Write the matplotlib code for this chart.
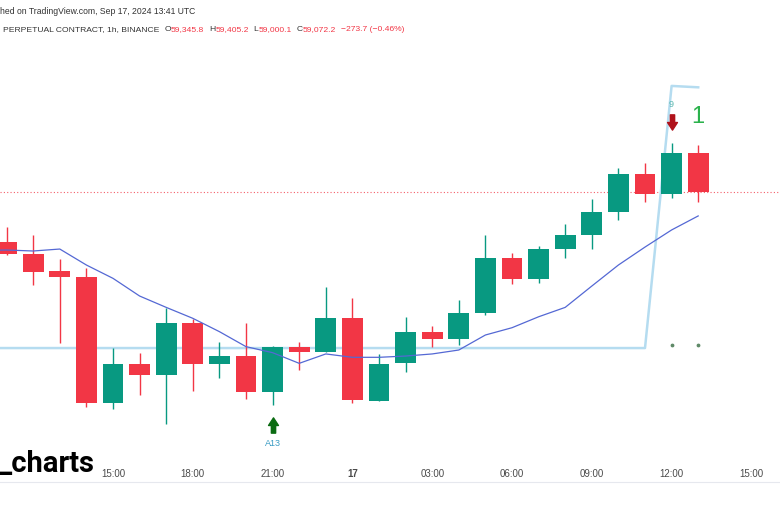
import matplotlib
matplotlib.use("Agg")
import numpy as np
from matplotlib import pyplot as plt
from matplotlib.path import Path

# hourly candles, hours counted from Sep 16 00:00
hours = list(range(11, 38))
opens = [58710, 58624, 58503, 58465, 57562, 57840, 57764, 58132, 57844, 57897,
         57643, 57963, 57930, 58172, 57578, 57847, 58073, 58020, 58204, 58600,
         58448, 58662, 58762, 58926, 59195, 59054, 59345.8]
highs = [58817, 58762, 58589, 58525, 57959, 57919, 58239, 58163, 58001, 58137,
         57970, 58001, 58389, 58311, 57914, 58180, 58113, 58299, 58762, 58636,
         58684, 58841, 59019, 59238, 59273, 59416, 59405.2]
lows = [58616, 58406, 57990, 57534, 57521, 57621, 57414, 57650, 57740, 57591,
        57548, 57797, 57928, 57562, 57578, 57787, 57966, 57978, 58192, 58413,
        58418, 58596, 58662, 58869, 58999, 59028, 59000.1]
closes = [58624, 58500, 58465, 57562, 57840, 57762, 58132, 57844, 57897, 57643,
          57963, 57930, 58172, 57583, 57844, 58073, 58020, 58204, 58600, 58448,
          58662, 58762, 58926, 59195, 59054, 59345.9, 59072.2]

# moving average (thin blue line)
ma_hours = list(range(10, 38))
ma_values = [58652, 58655, 58648, 58662, 58548, 58453, 58327, 58246, 58168, 58073,
             57966, 57923, 57847, 57914, 57890, 57890, 57899, 57914, 57942, 58049,
             58101, 58179, 58246, 58398, 58548, 58676, 58798, 58898]

# light blue step indicator
lvl_hours = [10, 35, 36, 37]
lvl_values = [57956, 57956, 59825, 59815]

dot_hours = [36, 37]
dot_level = 57978

tick_hours = [15, 18, 21, 24, 27, 30, 33, 36, 39]
tick_labels = ["15:00", "18:00", "21:00", "17", "03:00", "06:00", "09:00", "12:00", "15:00"]

GREEN = "#089981"
RED = "#f23645"

plt.rcParams['font.family'] = ['Liberation Sans', 'DejaVu Sans']

fig = plt.figure(figsize=(7.8, 5.07), dpi=100)
ax = fig.add_axes([0, 0, 1, 1])
ax.set_xlim(10.752, 40.075)
ax.set_ylim(56822.7, 60437.6)
ax.axis("off")

# candles
o = np.array(opens); c = np.array(closes)
cols = [GREEN if cc >= oo else RED for oo, cc in zip(opens, closes)]
ax.vlines(hours, lows, highs, colors=cols, linewidth=1, zorder=3)
body_h = np.maximum(np.abs(c - o), 7)
ax.bar(hours, body_h, bottom=np.minimum(o, c), width=0.78, color=cols, zorder=4)

ax.plot(ma_hours, ma_values, color="#5468d4", lw=0.9, zorder=5)
ax.plot(lvl_hours, lvl_values, color="#b5dcf0", lw=1.8, zorder=2)
ax.scatter(dot_hours, [dot_level] * len(dot_hours), s=3, color="#5f8a68", zorder=5)

# last price line
ax.axhline(closes[-1], color=RED, lw=0.8, ls=(0, (1, 2)), alpha=0.8, zorder=1)

# arrow markers
up = Path([(-0.28, -1), (0.28, -1), (0.28, 0), (0.65, 0), (0, 1), (-0.65, 0), (-0.28, 0), (-0.28, -1)],
          [Path.MOVETO] + [Path.LINETO] * 6 + [Path.CLOSEPOLY])
down = Path([(x, -y) for x, y in up.vertices], up.codes)
ax.plot([21], [57407], marker=up, ms=11, color="#0b6b12", zorder=6)
ax.text(21, 57279, "A13", color="#3a9cc4", fontsize=6.5, ha="center", va="center")
ax.plot([36], [59570], marker=down, ms=11, color="#b0121b", zorder=6)
ax.text(36, 59689, "9", color="#5cb8b0", fontsize=6.5, ha="center", va="center")
ax.text(37, 59603, "1", color="#2bb24c", fontsize=17, ha="center", va="center")

# time axis
ax.axhline(57001, color="#e6e8ee", lw=0.8, zorder=1)
tr = ax.get_xaxis_transform()
for h, lab in zip(tick_hours, tick_labels):
    ax.text(h, 0.0651, lab, transform=tr, ha="center", va="center", fontsize=7,
            color="#4a4a4a", fontweight="bold" if lab == "17" else "normal")

# watermark
ax.text(0.122, 0.069, "_charts", transform=ax.transAxes, ha="right", va="baseline",
        fontsize=21, fontweight="bold", color="black", family=["Roboto", "DejaVu Sans"], zorder=7)

# header
ax.text(0.0, 0.978, "hed on TradingView.com, Sep 17, 2024 13:41 UTC", transform=ax.transAxes,
        ha="left", va="center", fontsize=6.2, color="#333333")
chg = closes[-1] - closes[-2]
pct = chg / closes[-2] * 100
pieces = [("PERPETUAL CONTRACT, 1h, BINANCE", "#333333", 0),
          ("O", "#333333", 3.5), (f"{opens[-1]:,.1f}", RED, 0),
          ("H", "#333333", 3.5), (f"{highs[-1]:,.1f}", RED, 0),
          ("L", "#333333", 3.5), (f"{lows[-1]:,.1f}", RED, 0),
          ("C", "#333333", 3.5), (f"{closes[-1]:,.1f}", RED, 0),
          (f"\u2212{abs(chg):.1f} (\u2212{abs(pct):.2f}%)", RED, 3.5)]
prev = ax.text(0.004, 0.941, pieces[0][0], transform=ax.transAxes, ha="left", va="center",
               fontsize=6.1, color=pieces[0][1])
for txt, col, gap in pieces[1:]:
    prev = ax.annotate(txt, xy=(1, 0.5), xycoords=prev, xytext=(gap, 0), textcoords="offset points",
                       ha="left", va="center", fontsize=6.1, color=col)

fig.savefig("out.png", dpi=100)
